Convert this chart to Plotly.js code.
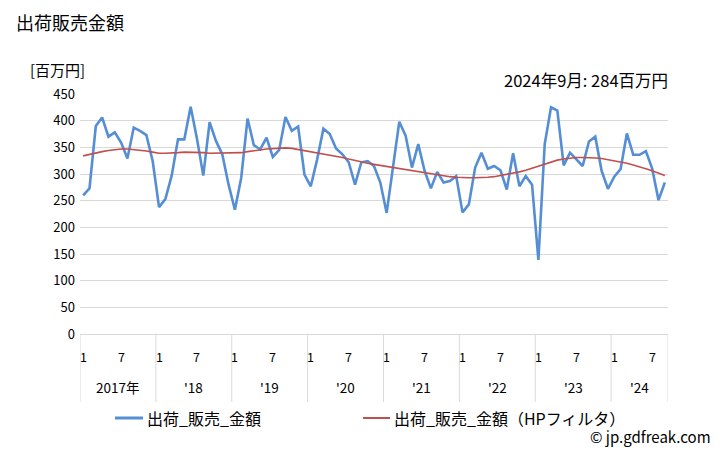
<!DOCTYPE html>
<html>
<head>
<meta charset="utf-8">
<script src="https://cdn.plot.ly/plotly-3.0.1.min.js"></script>
<style>html,body{margin:0;padding:0;background:#fff;}#chart{width:728px;height:450px;}</style>
</head>
<body>
<div id="chart"></div>
<script>
// Monthly data, Jan 2017 - Sep 2024 (unit: million yen)
const years = [2017, 2018, 2019, 2020, 2021, 2022, 2023, 2024];
const yearLabels = ["2017年", "'18", "'19", "'20", "'21", "'22", "'23", "'24"];
const monthTickLabels = ["1", "7"];
const sales = [
  260, 273, 390, 406, 370, 378, 359, 329, 387, 381, 373, 324,
  238, 253, 297, 365, 365, 426, 366, 297, 397, 362, 337, 280,
  233, 293, 404, 354, 346, 368, 332, 345, 407, 381, 389, 299,
  277, 327, 385, 375, 348, 337, 322, 280, 322, 324, 315, 284,
  227, 312, 398, 372, 312, 356, 306, 273, 304, 284, 287, 296,
  228, 243, 312, 340, 310, 315, 307, 271, 339, 277, 296, 280,
  139, 356, 425, 419, 316, 340, 327, 315, 361, 370, 306, 272,
  295, 309, 376, 336, 336, 343, 310, 251, 284
];
const salesHP = [
  334, 337, 340, 342, 344, 346, 347, 347, 346, 345, 343, 341,
  339, 339, 339, 340, 341, 341, 341, 340, 339, 339, 339, 339,
  339, 340, 342, 343, 345, 347, 348, 349, 349, 348, 346, 344,
  342, 340, 338, 336, 334, 331, 328, 325, 322, 320, 318, 316,
  314, 312, 310, 308, 306, 304, 302, 300, 298, 296, 295, 294,
  293, 293, 293, 293, 294, 295, 297, 299, 301, 304, 307, 311,
  315, 319, 323, 326, 328, 330, 331, 331, 331, 330, 329, 327,
  325, 322, 320, 317, 314, 310, 306, 301, 297
];
const seriesNames = ["出荷_販売_金額", "出荷_販売_金額（HPフィルタ）"];
const seriesColors = ['#558ED5', '#C0504D'];
const latestLabel = "2024年9月: 284百万円";

const n = sales.length;
const idx = sales.map((_, i) => i);
const font = "'Noto Sans CJK JP', 'Noto Sans', sans-serif";

const traces = [
  {x: idx, y: sales, type: 'scatter', mode: 'lines', name: seriesNames[0],
   line: {color: seriesColors[0], width: 2.6}, showlegend: false},
  {x: idx, y: salesHP, type: 'scatter', mode: 'lines', name: seriesNames[1],
   line: {color: seriesColors[1], width: 1.6}, showlegend: false}
];

const annotations = [];
const shapes = [];
years.forEach((yr, k) => {
  const start = k * 12;
  const end = Math.min(start + 11, n - 1);
  [0, 6].forEach((m, j) => {
    if (start + m < n) {
      annotations.push({x: start + m, y: -0.092, xref: 'x', yref: 'paper',
        text: monthTickLabels[j], showarrow: false, font: {size: 12.5, color: '#000', family: font},
        xanchor: 'center', yanchor: 'middle'});
    }
  });
  annotations.push({x: (start + end) / 2, y: -0.221, xref: 'x', yref: 'paper',
    text: yearLabels[k], showarrow: false, font: {size: 13.5, color: '#000', family: font},
    xanchor: 'center', yanchor: 'middle'});
  shapes.push({type: 'line', xref: 'x', yref: 'paper', x0: start - 0.5, x1: start - 0.5,
    y0: 0, y1: -0.283, line: {color: '#d9d9d9', width: 1}});
});
shapes.push({type: 'line', xref: 'x', yref: 'paper', x0: n - 0.5, x1: n - 0.5,
  y0: 0, y1: -0.283, line: {color: '#d9d9d9', width: 1}});

// legend drawn manually
const legendY = -0.35;
const legendItems = [
  {x0: 0.0595, x1: 0.1071, tx: 0.1105},
  {x0: 0.4813, x1: 0.5272, tx: 0.5306}
];
legendItems.forEach((it, i) => {
  shapes.push({type: 'line', xref: 'paper', yref: 'paper', x0: it.x0, x1: it.x1,
    y0: legendY, y1: legendY, line: {color: seriesColors[i], width: i === 0 ? 3 : 2}});
  annotations.push({x: it.tx, y: legendY, xref: 'paper', yref: 'paper', text: seriesNames[i],
    showarrow: false, xanchor: 'left', yanchor: 'middle', font: {size: 16, color: '#000', family: font}});
});

annotations.push({x: -0.1122, y: 1.3, xref: 'paper', yref: 'paper', text: '出荷販売金額',
  showarrow: false, xanchor: 'left', yanchor: 'middle', font: {size: 18, color: '#000', family: font}});
annotations.push({x: -0.0884, y: 1.1, xref: 'paper', yref: 'paper', text: '[百万円]',
  showarrow: false, xanchor: 'left', yanchor: 'middle', font: {size: 15, color: '#000', family: font}});
annotations.push({x: 1.0034, y: 1.058, xref: 'paper', yref: 'paper', text: latestLabel,
  showarrow: false, xanchor: 'right', yanchor: 'middle', font: {size: 16.5, color: '#000', family: font}});
annotations.push({x: 1.0765, y: -0.425, xref: 'paper', yref: 'paper', text: '© jp.gdfreak.com',
  showarrow: false, xanchor: 'right', yanchor: 'middle', font: {size: 15, color: '#000', family: font}});

const layout = {
  width: 728, height: 450,
  margin: {l: 80, r: 60, t: 94, b: 116},
  paper_bgcolor: '#fff', plot_bgcolor: '#fff',
  font: {family: font, color: '#000'},
  showlegend: false,
  xaxis: {range: [-0.5, n - 0.5], showticklabels: false, ticks: '', showgrid: false,
    zeroline: false, showline: true, linecolor: '#d9d9d9', linewidth: 1, fixedrange: true},
  yaxis: {range: [0, 450], tickvals: [0, 50, 100, 150, 200, 250, 300, 350, 400, 450],
    showgrid: true, gridcolor: '#d9d9d9', gridwidth: 1, zeroline: false, showline: false,
    ticks: '', ticklen: 0, ticklabelstandoff: 4,
    tickfont: {size: 13, color: '#000', family: font}, fixedrange: true},
  annotations: annotations,
  shapes: shapes
};

Plotly.newPlot('chart', traces, layout, {displayModeBar: false, staticPlot: true});
</script>
</body>
</html>
